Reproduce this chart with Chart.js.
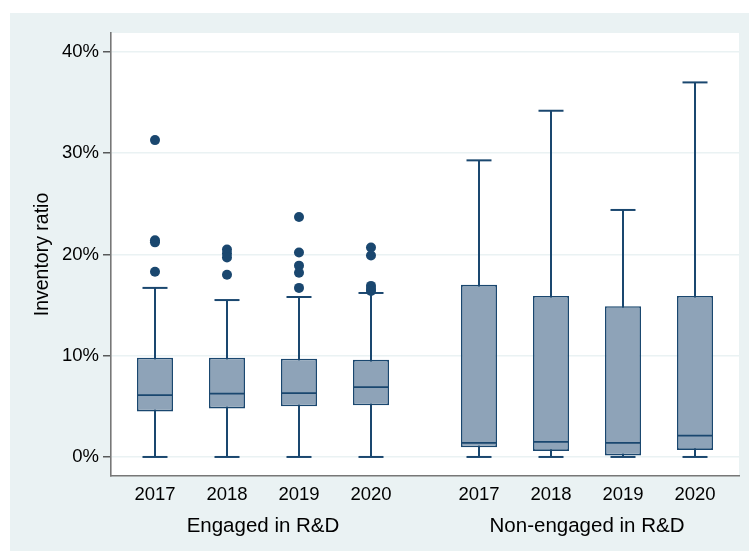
<!DOCTYPE html>
<html>
<head>
<meta charset="utf-8">
<script src="https://cdn.jsdelivr.net/npm/chart.js@4.4.1/dist/chart.umd.min.js"></script>
<style>
  html, body { margin: 0; padding: 0; background: #ffffff; }
  #wrap { width: 749px; height: 551px; position: relative; }
</style>
</head>
<body>
<div id="wrap"><canvas id="c" width="749" height="551"></canvas></div>
<script>
// ---- Data (inventory ratio, %) ----
const yearLabels   = ['2017', '2018', '2019', '2020', '2017', '2018', '2019', '2020'];
const boxPositions = [1, 2, 3, 4, 5.5, 6.5, 7.5, 8.5];
const groupLabels    = ['Engaged in R&D', 'Non-engaged in R&D'];
const groupPositions = [2.5, 7];
const yTickValues  = [0, 10, 20, 30, 40];

const lowerWhisker = [0, 0, 0, 0, 0, 0, 0, 0];
const q1           = [4.5, 4.8, 5.0, 5.1, 0.95, 0.6, 0.15, 0.7];
const median       = [6.1, 6.25, 6.3, 6.9, 1.4, 1.5, 1.4, 2.1];
const q3           = [9.8, 9.8, 9.7, 9.6, 17.0, 15.9, 14.9, 15.9];
const upperWhisker = [16.7, 15.5, 15.8, 16.2, 29.3, 34.2, 24.4, 37.0];
const outliers = [
  [31.3, 21.4, 21.2, 18.3],
  [20.5, 20.1, 19.7, 18.0],
  [23.7, 20.2, 18.9, 18.2, 16.7],
  [20.7, 19.9, 16.9, 16.6, 16.4],
  [], [], [], []
];

// ---- Styles ----
const NAVY = '#1A476F';
const BOX_FILL = '#8EA3B8';
const BG = '#EAF2F3';
const FONT = '"Liberation Sans", Arial, Helvetica, sans-serif';

const whiskerData = boxPositions.map((x, i) => ({ x: x, y: [lowerWhisker[i], upperWhisker[i]] }));
const boxData     = boxPositions.map((x, i) => ({ x: x, y: [q1[i], q3[i]] }));
const medianData  = boxPositions.map((x, i) => ({ x: x, y: median[i] }));
const capData = [];
boxPositions.forEach((x, i) => {
  capData.push({ x: x, y: lowerWhisker[i] });
  capData.push({ x: x, y: upperWhisker[i] });
});
const outlierData = [];
boxPositions.forEach((x, i) => outliers[i].forEach(v => outlierData.push({ x: x, y: v })));

const backgroundPlugin = {
  id: 'stataBackground',
  beforeDraw(chart) {
    const { ctx, chartArea } = chart;
    ctx.save();
    ctx.fillStyle = '#ffffff';
    ctx.fillRect(0, 0, chart.width, chart.height);
    ctx.fillStyle = BG;
    ctx.fillRect(10, 13, chart.width - 10, chart.height - 13);
    ctx.fillStyle = '#ffffff';
    ctx.fillRect(chartArea.left, chartArea.top, chartArea.right - chartArea.left, chartArea.bottom - chartArea.top);
    ctx.restore();
  }
};

function noHPadding(axis) {
  axis.paddingLeft = 0;
  axis.paddingRight = 0;
}

new Chart(document.getElementById('c'), {
  type: 'bar',
  data: {
    datasets: [
      {
        type: 'bar', label: 'whiskers', data: whiskerData, grouped: false,
        backgroundColor: NAVY, borderWidth: 0, maxBarThickness: 2,
        order: 4
      },
      {
        type: 'scatter', label: 'caps', data: capData,
        pointStyle: 'line', pointRadius: 12.5, pointBorderWidth: 2,
        pointBorderColor: NAVY, pointBackgroundColor: NAVY, order: 3
      },
      {
        type: 'bar', label: 'boxes', data: boxData, grouped: false,
        backgroundColor: BOX_FILL, borderColor: NAVY, borderWidth: 1.6,
        borderSkipped: false, barPercentage: 0.5, categoryPercentage: 1,
        order: 2
      },
      {
        type: 'scatter', label: 'medians', data: medianData,
        pointStyle: 'line', pointRadius: 18, pointBorderWidth: 1.8,
        pointBorderColor: NAVY, order: 1
      },
      {
        type: 'scatter', label: 'outliers', data: outlierData,
        pointStyle: 'circle', pointRadius: 5, pointBorderWidth: 0,
        pointBackgroundColor: NAVY, pointBorderColor: NAVY, order: 0
      }
    ]
  },
  options: {
    responsive: false,
    animation: false,
    events: [],
    layout: { autoPadding: false, padding: { top: 33, right: 10, bottom: 0, left: 0 } },
    plugins: { legend: { display: false }, tooltip: { enabled: false } },
    scales: {
      x: {
        type: 'linear', position: 'bottom', offset: false,
        min: 0.389, max: 9.111,
        grid: { display: false, drawTicks: false, offset: false },
        border: { display: true, color: '#777777', width: 1.6 },
        afterBuildTicks(axis) { axis.ticks = boxPositions.map(v => ({ value: v })); },
        afterFit(axis) { axis.height = 38; noHPadding(axis); },
        ticks: {
          autoSkip: false, maxRotation: 0, padding: 8, color: '#000000',
          font: { family: FONT, size: 18.5 },
          callback(value, index) { return yearLabels[index]; }
        }
      },
      x2: {
        type: 'linear', position: 'bottom', offset: false,
        min: 0.389, max: 9.111,
        grid: { display: false, drawTicks: false },
        border: { display: false },
        afterBuildTicks(axis) { axis.ticks = groupPositions.map(v => ({ value: v })); },
        afterFit(axis) { axis.height = 37; noHPadding(axis); },
        ticks: {
          autoSkip: false, maxRotation: 0, padding: 0, color: '#000000',
          font: { family: FONT, size: 20.5 },
          callback(value, index) { return groupLabels[index]; }
        }
      },
      y: {
        type: 'linear', position: 'left',
        min: -1.88, max: 41.88,
        afterBuildTicks(axis) { axis.ticks = yTickValues.map(v => ({ value: v })); },
        afterFit(axis) { axis.width = 111; axis.paddingTop = 0; axis.paddingBottom = 0; },
        grid: { color: BG, lineWidth: 1.6, drawTicks: true, tickLength: 8, tickColor: '#333333', tickWidth: 1.2 },
        border: { display: true, color: '#777777', width: 1.6 },
        ticks: {
          padding: 4, color: '#000000',
          font: { family: FONT, size: 18.5 },
          callback(value) { return value + '%'; }
        },
        title: {
          display: true, text: 'Inventory ratio', color: '#000000',
          font: { family: FONT, size: 19.5 },
          padding: { top: 31, bottom: 0 }
        }
      }
    }
  },
  plugins: [backgroundPlugin]
});
</script>
</body>
</html>
